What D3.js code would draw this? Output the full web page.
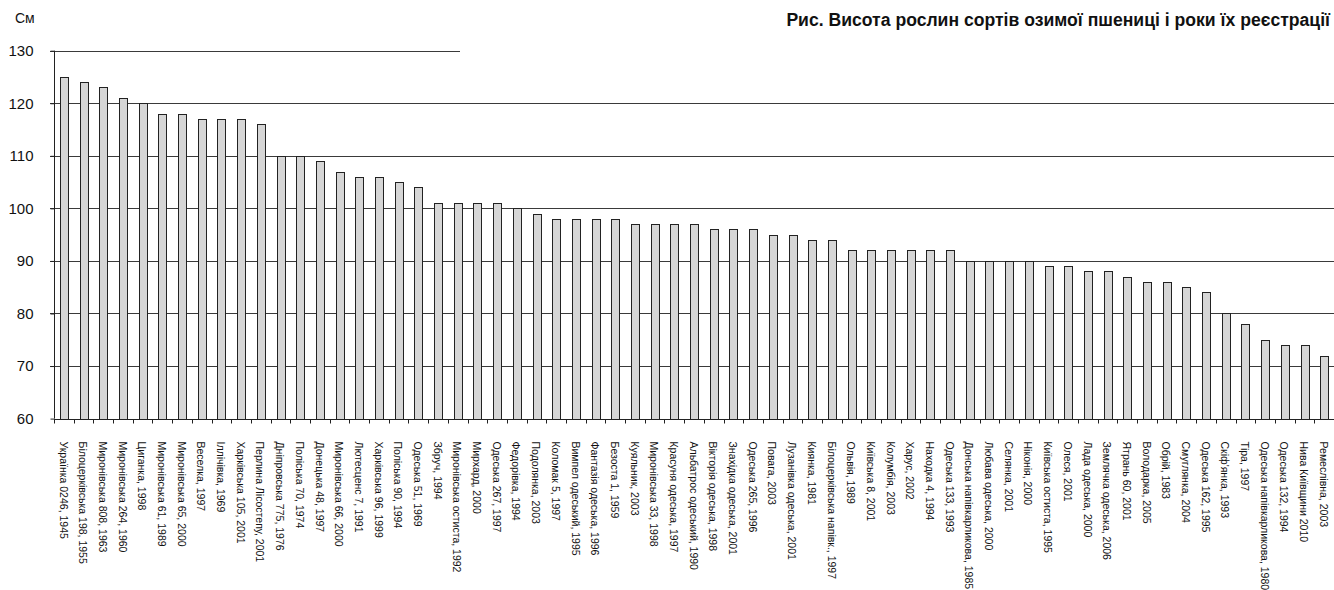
<!DOCTYPE html>
<html><head><meta charset="utf-8">
<script src="https://cdn.jsdelivr.net/npm/d3@7"></script>
<style>
html,body{margin:0;padding:0;background:#fff;}
svg{display:block;font-family:"Liberation Sans",Arial,sans-serif;}
</style></head>
<body>
<svg id="c" width="1334" height="590"></svg>
<script>
const categories = [
"Українка 0246, 1945","Білоцерківська 198, 1955","Миронівська 808, 1963","Миронівська 264, 1960","Циганка, 1998",
"Миронівська 61, 1989","Миронівська 65, 2000","Веселка, 1997","Іллічівка, 1969","Харківська 105, 2001",
"Перлина Лісостепу, 2001","Дніпровська 775, 1976","Поліська 70, 1974","Донецька 48, 1997","Миронівська 66, 2000",
"Лютесценс 7, 1991","Харківська 96, 1999","Поліська 90, 1994","Одеська 51, 1969","Збруч, 1994",
"Миронівська остиста, 1992","Мирхард, 2000","Одеська 267, 1997","Федорівка, 1994","Подолянка, 2003",
"Коломак 5, 1997","Вимпел одеський, 1995","Фантазія одеська, 1996","Безоста 1, 1959","Куяльник, 2003",
"Миронівська 33, 1998","Красуня одеська, 1997","Альбатрос одеський, 1990","Вікторія одеська, 1998","Знахідка одеська, 2001",
"Одеська 265, 1996","Повага, 2003","Лузанівка одеська, 2001","Киянка, 1981","Білоцерківська напівк., 1997",
"Ольвія, 1989","Київська 8, 2001","Колумбія, 2003","Харус, 2002","Находка 4, 1994",
"Одеська 133, 1993","Донська напівкарликова, 1985","Любава одеська, 2000","Селянка, 2001","Ніконія, 2000",
"Київська остиста, 1995","Олеся, 2001","Лада одеська, 2000","Землячка одеська, 2006","Ятрань 60, 2001",
"Володарка, 2005","Обрій, 1983","Смуглянка, 2004","Одеська 162, 1995","Скіф'янка, 1993",
"Тіра, 1997","Одеська напівкарликова, 1980","Одеська 132, 1994","Нива Київщини 2010","Ремеслівна, 2003"
];
const heights = [
125,124,123,121,120,
118,118,117,117,117,
116,110,110,109,107,
106,106,105,104,101,
101,101,101,100,99,
98,98,98,98,97,
97,97,97,96,96,
96,95,95,94,94,
92,92,92,92,92,
92,90,90,90,90,
89,89,88,88,87,
86,86,85,84,80,
78,75,74,74,72
];
const yTicks = [60,70,80,90,100,110,120,130];
const yUnit = "См";
const title = "Рис. Висота рослин сортів озимої пшениці і роки їх реєстрації";

const svg = d3.select("#c");
const L = 54, R = 1334, T = 50.7, B = 418.6;
const x = d3.scaleBand().domain(categories).range([L, R]).paddingInner(0.6).paddingOuter(0.3);
const y = d3.scaleLinear().domain([60,130]).range([B, T]);

// gridlines
const gridG = svg.append("g");
gridG.selectAll("line").data(yTicks.slice(1)).join("line")
  .attr("x1", L - 4)
  .attr("x2", d => d === 130 ? L + 406 : R)
  .attr("y1", d => Math.round(y(d)) + 0.5).attr("y2", d => Math.round(y(d)) + 0.5)
  .attr("stroke", "#3a3a3a").attr("stroke-width", 1);

// bars
svg.append("g").selectAll("rect").data(categories).join("rect")
  .attr("x", d => Math.round(x(d)) + 0.5)
  .attr("y", (d,i) => Math.round(y(heights[i])) + 0.5)
  .attr("width", Math.round(x.bandwidth()))
  .attr("height", (d,i) => Math.round(B) - Math.round(y(heights[i])))
  .attr("fill", "#d6d6d6").attr("stroke", "#222").attr("stroke-width", 1);

// y axis
const yAxis = d3.axisLeft(y).tickValues(yTicks).tickSize(4).tickPadding(17).tickFormat(d3.format("d"));
const yg = svg.append("g").attr("transform", `translate(${L + 0.5},0)`).call(yAxis);
yg.select(".domain").attr("stroke", "#222").attr("d", `M0,${y(130)}V${B}`);
yg.selectAll(".tick line").attr("stroke", "#222");
yg.selectAll(".tick text").attr("font-size", 15).attr("fill", "#111").attr("font-family", "Liberation Sans, Arial, sans-serif");

// x axis
const xg = svg.append("g").attr("transform", `translate(0,${Math.round(B) + 0.5})`);
xg.append("line").attr("x1", L).attr("x2", R).attr("stroke", "#222");
const bounds = d3.range(categories.length + 1).map(i => L + i * (R - L) / categories.length);
xg.selectAll("line.tk").data(bounds).join("line").attr("class","tk")
  .attr("x1", d => Math.round(d) + 0.5).attr("x2", d => Math.round(d) + 0.5)
  .attr("y1", 0).attr("y2", 4).attr("stroke", "#222");
xg.selectAll("text").data(categories).join("text")
  .attr("transform", d => `translate(${x(d) + x.bandwidth()/2 - 1.5},${22}) rotate(90)`)
  .attr("font-size", 10.5).attr("fill", "#111")
  .attr("dominant-baseline", "middle")
  .text(d => d);

// unit label
svg.append("text").attr("x", 15).attr("y", 23).attr("font-size", 14).attr("fill", "#111").text(yUnit);
// title
svg.append("text").attr("x", 1330).attr("y", 26).attr("text-anchor", "end")
  .attr("font-size", 17.6).attr("font-weight", "bold").attr("fill", "#111").text(title);
</script>
</body></html>
